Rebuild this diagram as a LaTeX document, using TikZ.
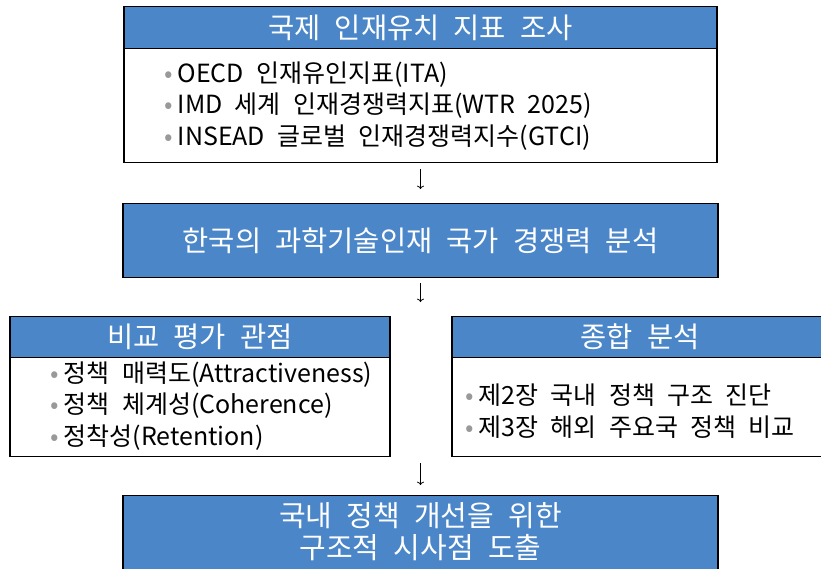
\documentclass[tikz,border=0pt]{standalone}
\usepackage{fontspec}
\setmainfont[WordSpace=2.2]{Noto Sans CJK KR}
\usepackage{xcolor}
\usetikzlibrary{positioning, arrows.meta}

\definecolor{headblue}{RGB}{74,134,200}
\newcommand{\itm}{{\color{gray!80}\textbullet}\hspace{5pt}}

\begin{document}
\begin{tikzpicture}[>=To, x=1pt, y=-1pt,
		frame/.style={draw, line width=1.1pt, fill=white, inner sep=0pt},
		header/.style={frame, fill=headblue, text=white,
			font=\fontsize{28.5}{32}\selectfont},
		items/.style={align=left, anchor=west, inner sep=0pt,
			font=\fontsize{25}{31.5}\selectfont}]
		\clip (0,0) rectangle (821,568);
		\fill[white] (0,0) rectangle (821,568);

		% top box: index survey
		\node[frame, minimum width=593pt, minimum height=156pt, anchor=north]
			(survey) at (420.5,6) {};
		\node[header, minimum width=593pt, minimum height=42pt, anchor=north]
			(survey-head) at (survey.north) {국제 인재유치 지표 조사};
		\node[items] (survey-list) at (164,106)
			{\itm OECD 인재유인지표(ITA)\\
			 \itm IMD 세계 인재경쟁력지표(WTR 2025)\\
			 \itm INSEAD 글로벌 인재경쟁력지수(GTCI)};

		% middle box
		\node[header, minimum width=595pt, minimum height=74pt, anchor=north]
			(talent) at (420.5,203) {한국의 과학기술인재 국가 경쟁력 분석};

		% left box: evaluation view
		\node[frame, minimum width=380pt, minimum height=140pt, anchor=north]
			(view) at (200,316) {};
		\node[header, minimum width=380pt, minimum height=41pt, anchor=north]
			(view-head) at (view.north) {비교 평가 관점};
		\node[items] (view-list) at (50,406)
			{\itm 정책 매력도(Attractiveness)\\
			 \itm 정책 체계성(Coherence)\\
			 \itm 정착성(Retention)};

		% right box: synthesis
		\node[frame, minimum width=376pt, minimum height=140pt, anchor=north]
			(synth) at (640,316) {};
		\node[header, minimum width=376pt, minimum height=41pt, anchor=north]
			(synth-head) at (synth.north) {종합 분석};
		\node[items] (synth-list) at (465,411)
			{\itm 제2장 국내 정책 구조 진단\\
			 \itm 제3장 해외 주요국 정책 비교};

		% bottom box
		\node[header, minimum width=595pt, minimum height=90pt, anchor=north]
			(result) at (420.5,495) {};
		\node[text=white, align=center, font=\fontsize{29}{32}\selectfont]
			(result-text) at (420.5,532) {국내 정책 개선을 위한\\구조적 시사점 도출};

		\coordinate (fork) at (420.5,316);
		\coordinate (join) at (420.5,456);

		\draw[->, line width=0.8pt, shorten <=6pt, shorten >=14pt]
			(survey.south) -- (talent.north);
		\draw[->, line width=0.8pt, shorten <=5pt, shorten >=14pt]
			(talent.south) -- (fork);
		\draw[->, line width=0.8pt, shorten <=7pt, shorten >=10pt]
			(join) -- (result.north);
	\end{tikzpicture}
\end{document}
